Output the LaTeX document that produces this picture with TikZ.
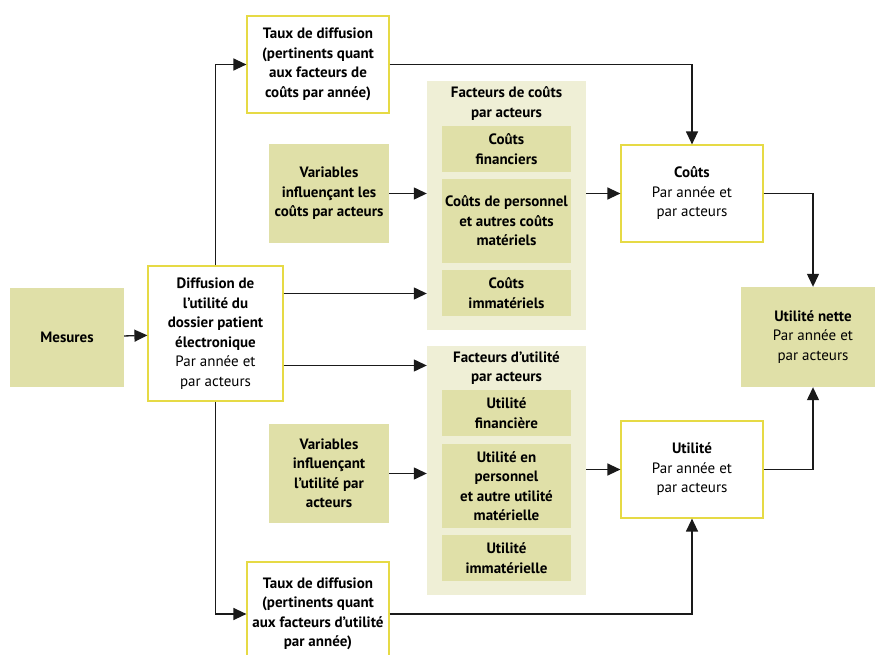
\documentclass[tikz,border=0pt]{standalone}
\usepackage{fontspec}
\setmainfont{PT Sans}
\usetikzlibrary{arrows.meta}
\definecolor{jaune}{HTML}{E6DA45}
\definecolor{vertA}{HTML}{E0E0A8}
\definecolor{vertB}{HTML}{EFEFD6}
\definecolor{trait}{HTML}{1A1A1A}
\newcommand\txt{\fontsize{15}{19.5}\selectfont}
\begin{document}
\begin{tikzpicture}[x=1pt, y=-1pt, font=\txt,
  box/.style={draw=jaune, line width=1.2pt, fill=white, align=center,
    minimum width=142pt, minimum height=97pt, inner sep=0pt},
  plein/.style={fill=vertA, align=center, font=\txt\bfseries,
    minimum width=120pt, minimum height=99pt, inner sep=0pt},
  groupe/.style={fill=vertB, minimum width=159pt, minimum height=249pt, inner sep=0pt},
  facteur/.style={fill=vertA, align=center, font=\txt\bfseries,
    minimum width=129pt, inner sep=0pt},
  titre/.style={align=center, font=\txt\bfseries},
  fl/.style={-{Triangle[length=13pt,width=12pt]}, line width=1.3pt, draw=trait}]
  \useasboundingbox (0,0) rectangle (875,655);
  \clip (0,0) rectangle (875,655);
  \fill[white] (0,0) rectangle (875,655);

  \node[plein, minimum width=114pt] (mes) at (67,337.5) {Mesures};
  \node[box, minimum width=135pt, minimum height=135pt] (diff) at (215.5,333.5)
    {\textbf{Diffusion de}\\\textbf{l’utilité du}\\\textbf{dossier patient}\\\textbf{électronique}\\Par année et\\par acteurs};
  \node[box, font=\txt\bfseries] (tauxC) at (318,64.5)
    {Taux de diffusion\\(pertinents quant\\aux facteurs de\\coûts par année)};
  \node[box, minimum height=104pt, font=\txt\bfseries] (tauxU) at (318,614)
    {Taux de diffusion\\(pertinents quant\\aux facteurs d’utilité\\par année)};
  \node[plein] (varC) at (329,193.5) {Variables\\influençant les\\coûts par acteurs};
  \node[plein] (varU) at (329,473.5) {Variables\\influençant\\l’utilité par\\acteurs};

  % facteurs de couts
  \node[groupe] (grpC) at (506.5,205.5) {};
  \node[titre] (titC) at (506.5,103.5) {Facteurs de coûts\\par acteurs};
  \node[facteur, minimum height=46pt] (cfin) at (506.5,149) {Coûts\\financiers};
  \node[facteur, minimum height=84pt] (cpers) at (506.5,221) {Coûts de personnel\\et autres coûts\\matériels};
  \node[facteur, minimum height=46pt] (cimm) at (506.5,293) {Coûts\\immatériels};

  % facteurs d'utilite
  \node[groupe] (grpU) at (506.5,470.5) {};
  \node[titre] (titU) at (506.5,368) {Facteurs d’utilité\\par acteurs};
  \node[facteur, minimum height=46pt] (ufin) at (506.5,413) {Utilité\\financière};
  \node[facteur, minimum height=84pt] (upers) at (506.5,486) {Utilité en\\personnel\\et autre utilité\\matérielle};
  \node[facteur, minimum height=46pt] (uimm) at (506.5,558) {Utilité\\immatérielle};

  \node[box] (couts) at (692,193.5) {\textbf{Coûts}\\Par année et\\par acteurs};
  \node[box] (util) at (692,469.5) {\textbf{Utilité}\\Par année et\\par acteurs};
  \node[plein, minimum width=144pt, minimum height=100pt, font=\txt] (net) at (813,337)
    {\textbf{Utilité nette}\\Par année et\\par acteurs};

  \draw[fl] (mes) -- (diff);
  \draw[fl] (diff.north) |- (tauxC.west);
  \draw[fl] (tauxC.east) -| (couts.north);
  \draw[fl] (diff.south) |- (tauxU.west);
  \draw[fl] (tauxU.east) -| (util.south);
  \draw[fl] (varC.east) -- (varC.east -| grpC.west);
  \draw[fl] ([yshift=40pt]diff.east) -- ([yshift=40pt]diff.east -| grpC.west);
  \draw[fl] ([yshift=-32pt]diff.east) -- ([yshift=-32pt]diff.east -| grpU.west);
  \draw[fl] (varU.east) -- (varU.east -| grpU.west);
  \draw[fl] (couts.west -| grpC.east) -- (couts.west);
  \draw[fl] (util.west -| grpU.east) -- (util.west);
  \draw[fl] (couts.east) -| (net.north);
  \draw[fl] (util.east) -| (net.south);
\end{tikzpicture}
\end{document}
